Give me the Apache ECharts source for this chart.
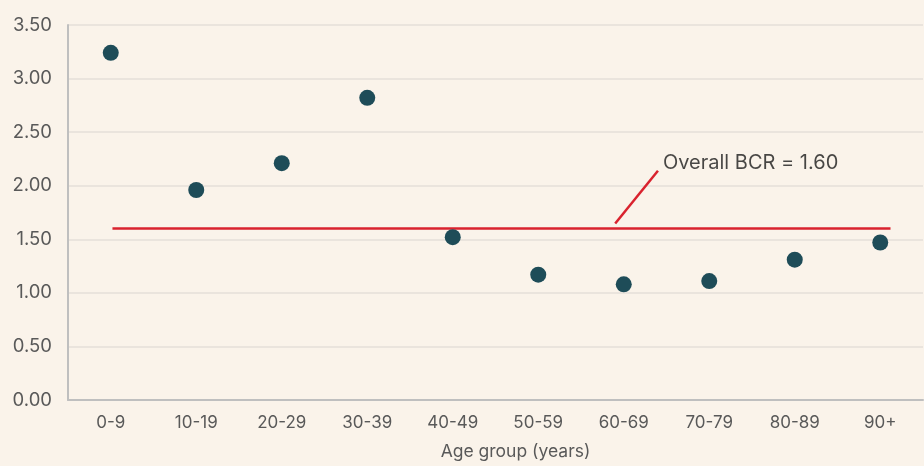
<!DOCTYPE html>
<html><head><meta charset="utf-8">
<script src="https://cdn.jsdelivr.net/npm/echarts@6/dist/echarts.min.js"></script>
<style>html,body{margin:0;padding:0;background:#FAF3EA;}#c{width:924px;height:466px;}</style>
</head><body><div id="c"></div>
<script>
const categories = ['0-9','10-19','20-29','30-39','40-49','50-59','60-69','70-79','80-89','90+'];
const bcrValues = [3.24, 1.96, 2.21, 2.82, 1.52, 1.17, 1.08, 1.11, 1.31, 1.47];
const overallBCR = 1.60;
const yTicks = [0, 0.5, 1, 1.5, 2, 2.5, 3, 3.5];
const refLineX = [0.02, 9.12];
const leaderX = [5.90, 6.40];
const leaderY = [1.648, 2.139];
const annotationText = 'Overall BCR = 1.60';

const chart = echarts.init(document.getElementById('c'), null, {renderer:'canvas'});
chart.setOption({
  backgroundColor: '#FAF3EA',
  animation: false,
  grid: {left: 68, right: 1, top: 25, bottom: 64},
  xAxis: [{
    type: 'category', data: categories, boundaryGap: true,
    axisLine: {lineStyle: {color: '#BFBFBF', width: 2}},
    axisTick: {show: false},
    axisLabel: {color: '#595959', fontSize: 17, fontFamily: 'Inter', margin: 14},
    name: 'Age group (years)', nameLocation: 'middle', nameGap: 43,
    nameTextStyle: {color: '#595959', fontSize: 17.5, fontFamily: 'Inter', padding: [0, 0, 0, 40]}
  },{
    type: 'value', min: -0.5, max: 9.5, show: false
  }],
  yAxis: {
    type: 'value', min: yTicks[0], max: yTicks[yTicks.length-1], interval: 0.5,
    axisLine: {show: true, onZero: false, lineStyle: {color: '#BFBFBF', width: 2}},
    axisTick: {show: false},
    splitLine: {lineStyle: {color: '#E4DFD9', width: 1.5}},
    axisLabel: {color: '#595959', fontSize: 18.5, fontFamily: 'Inter', margin: 16,
      formatter: v => v.toFixed(2)}
  },
  series: [{
    type: 'line', xAxisIndex: 1,
    data: [[refLineX[0], overallBCR],[refLineX[1], overallBCR]],
    symbol: 'none', lineStyle: {color: '#D9222E', width: 2.5}, z: 2
  },{
    type: 'line', xAxisIndex: 1,
    data: [[leaderX[0], leaderY[0]], [leaderX[1], leaderY[1]]],
    symbol: 'none', lineStyle: {color: '#D9222E', width: 2.5}, z: 2
  },{
    type: 'scatter', xAxisIndex: 1,
    data: [[leaderX[1], leaderY[1]]],
    symbolSize: 2, itemStyle: {color: 'rgba(0,0,0,0)'},
    label: {show: true, position: 'right', distance: 4, formatter: annotationText,
      color: '#1A1A1A', fontSize: 20, fontFamily: 'Inter', offset: [0, -8]},
    z: 4
  },{
    type: 'scatter', data: bcrValues, symbolSize: 16,
    itemStyle: {color: '#1E4C58', opacity: 1}, z: 3
  }]
});
</script></body></html>
